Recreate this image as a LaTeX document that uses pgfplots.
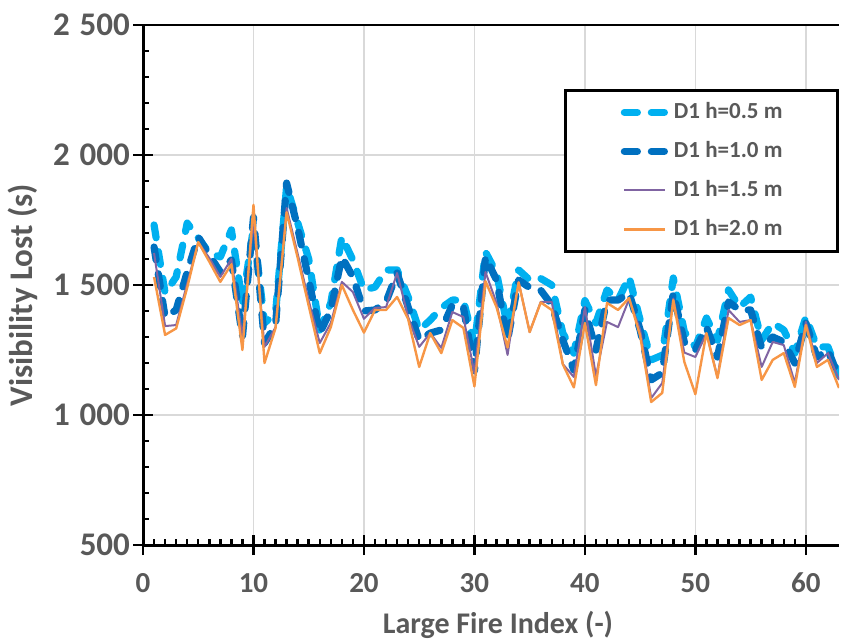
\documentclass[border=0pt]{standalone}
\usepackage{fontspec}
\setmainfont{Carlito}
\usepackage{pgfplots}
\pgfplotsset{compat=1.18}
\usepackage{pgfplotstable}
\definecolor{lb}{HTML}{00B0F0}
\definecolor{db}{HTML}{0070C0}
\definecolor{pu}{HTML}{8064A2}
\definecolor{og}{HTML}{F79646}
\definecolor{txt}{HTML}{595959}
\definecolor{gridc}{HTML}{D9D9D9}
\pgfplotstableread{
x a b c d
1 1731 1646 1623 1531
2 1469 1377 1342 1308
3 1531 1404 1346 1333
4 1738 1550 1505 1490
5 1681 1685 1665 1665
6 1623 1615 1604 1590
7 1608 1550 1531 1512
8 1712 1596 1600 1580
9 1431 1300 1300 1250
10 1720 1760 1750 1808
11 1354 1277 1262 1200
12 1392 1346 1338 1335
13 1880 1892 1796 1780
14 1740 1720 1620 1605
15 1600 1520 1440 1420
16 1327 1315 1277 1238
17 1431 1404 1354 1338
18 1685 1608 1512 1500
19 1596 1531 1473 1404
20 1481 1400 1370 1317
21 1492 1404 1412 1404
22 1558 1435 1415 1404
23 1558 1546 1546 1454
24 1454 1415 1377 1369
25 1327 1288 1262 1185
26 1365 1315 1315 1315
27 1412 1327 1258 1238
28 1442 1423 1396 1365
29 1442 1415 1377 1335
30 1270 1170 1162 1110
31 1627 1608 1550 1515
32 1546 1519 1431 1415
33 1338 1288 1231 1260
34 1558 1519 1512 1510
35 1519 1490 1319 1319
36 1525 1480 1435 1433
37 1500 1423 1435 1404
38 1315 1288 1196 1195
39 1238 1173 1146 1106
40 1440 1404 1415 1354
41 1354 1250 1150 1115
42 1481 1442 1358 1431
43 1442 1442 1338 1404
44 1531 1469 1446 1450
45 1365 1327 1327 1305
46 1212 1135 1065 1050
47 1230 1162 1123 1085
48 1527 1470 1448 1442
49 1320 1280 1240 1204
50 1262 1250 1223 1080
51 1373 1338 1315 1315
52 1288 1223 1146 1142
53 1481 1435 1404 1373
54 1415 1404 1358 1346
55 1454 1404 1365 1365
56 1288 1258 1185 1135
57 1354 1300 1281 1212
58 1327 1281 1269 1238
59 1238 1200 1123 1108
60 1377 1354 1358 1346
61 1262 1223 1200 1185
62 1262 1250 1238 1212
63 1150 1142 1135 1104
}\data
\begin{document}
\begin{tikzpicture}
\begin{axis}[
  scale only axis, width=348pt, height=260pt,
  xmin=0, xmax=63, ymin=500, ymax=2500,
  axis lines*=left,
  axis line style={-, black, line width=1.5pt},
  xtick={0,10,20,30,40,50,60},
  xticklabels={0,10,20,30,40,50,60},
  ytick={500,1000,1500,2000,2500},
  yticklabels={500,1\hspace{0.3em}000,1\hspace{0.3em}500,2\hspace{0.3em}000,2\hspace{0.3em}500},
  minor x tick num=9, minor y tick num=4,
  tick align=inside,
  major tick length=5pt, minor tick length=3pt,
  tick style={black, line width=1.25pt},
  extra x ticks={0,10,20,30,40,50,60},
  extra x tick labels={},
  extra y ticks={500,1000,1500,2000,2500},
  extra y tick labels={},
  extra tick style={tick align=outside, major tick length=5pt, grid=none},
  grid=major,
  major grid style={draw=gridc, line width=0.75pt},
  xticklabel style={font=\bfseries\fontsize{14.5}{17}\selectfont, text=txt, yshift=-10.5pt},
  yticklabel style={font=\bfseries\fontsize{16.5}{19}\selectfont, text=txt, xshift=-3pt},
  every axis x label/.style={at={([yshift=-44pt]rel axis cs:0.51,0)}, anchor=base},
  every axis y label/.style={at={([xshift=-60pt]rel axis cs:0,0.48)}, anchor=center, rotate=90},
  xlabel style={font=\bfseries\fontsize{15}{18}\selectfont, text=txt},
  ylabel style={font=\bfseries\fontsize{16.5}{19}\selectfont, text=txt},
  xlabel={Large Fire Index (-)},
  ylabel={Visibility Lost (s)},
  legend style={at={(1.0,0.877)}, anchor=north east, draw=black, line width=1.5pt,
    font=\bfseries\fontsize{11.5}{14}\selectfont, text=txt,
    inner xsep=27.5pt, inner ysep=5.5pt, row sep=8.5pt,
    nodes={inner sep=0pt, text height=8.5pt, text depth=2.5pt},
    column sep=2.5pt},
  legend cell align=left,
  legend image code/.code={\draw[#1] (0pt,0pt) -- (20.5pt,0pt);},
]
\addplot[lb, line width=3.6pt, dash pattern=on 6.5pt off 7pt, line cap=round, line join=round] table[x=x,y=a]{\data};
\addlegendentry{D1 h=0.5 m}
\addplot[db, line width=3.6pt, dash pattern=on 6.5pt off 7pt, line cap=round, line join=round] table[x=x,y=b]{\data};
\addlegendentry{D1 h=1.0 m}
\addplot[pu, line width=1pt, line join=round] table[x=x,y=c]{\data};
\addlegendentry{D1 h=1.5 m}
\addplot[og, line width=1.2pt, line join=round] table[x=x,y=d]{\data};
\addlegendentry{D1 h=2.0 m}
\draw[black, line width=1.5pt] (rel axis cs:0,1) -- (rel axis cs:1,1);
\coordinate (pa) at (rel axis cs:0,0);
\coordinate (pb) at (rel axis cs:1,1);
\end{axis}
\pgfresetboundingbox
\path[use as bounding box] ([xshift=-71.5pt,yshift=-48.5pt]pa) rectangle ([xshift=3.5pt,yshift=12.5pt]pb);
\end{tikzpicture}
\end{document}
